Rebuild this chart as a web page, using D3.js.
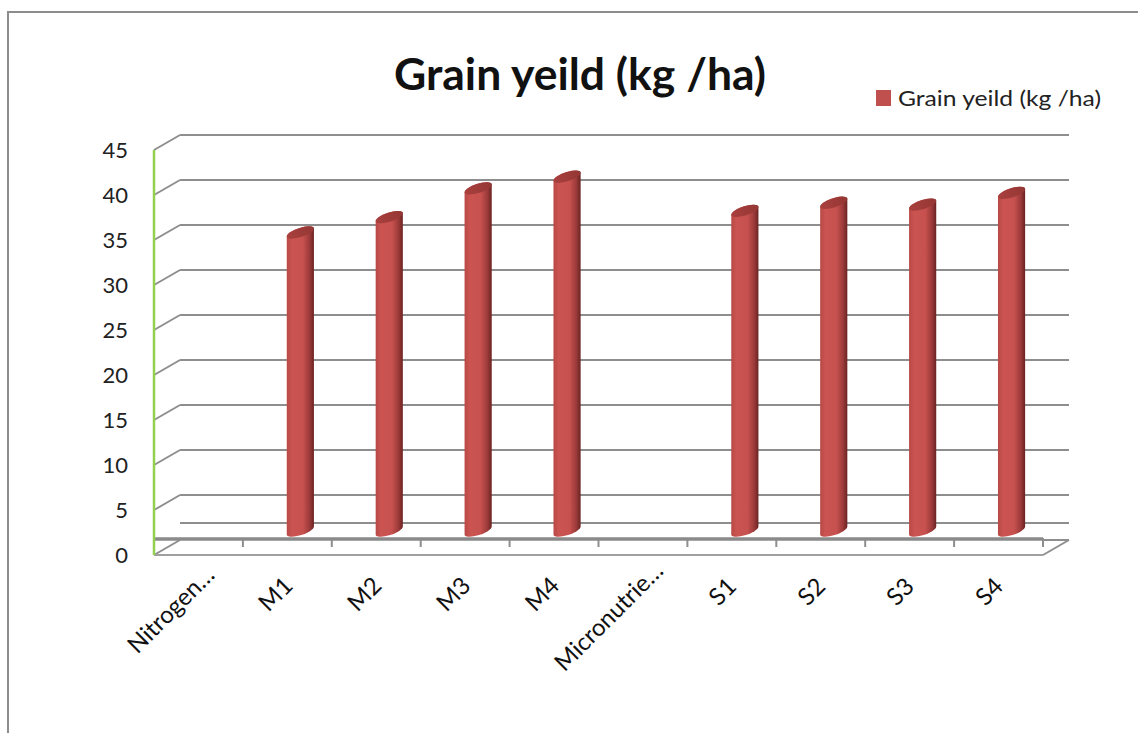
<!DOCTYPE html>
<html>
<head>
<meta charset="utf-8">
<script src="https://cdn.jsdelivr.net/npm/d3@7"></script>
<style>
  body { margin: 0; background: #fff; }
  svg { display: block; font-family: Lato, "Open Sans", sans-serif; }
</style>
</head>
<body>
<div id="chart"></div>
<script>

// data
var categories = ["Nitrogen…", "M1", "M2", "M3", "M4", "Micronutrie…", "S1", "S2", "S3", "S4"];
var grain_yield = [null, 35.0, 36.7, 39.9, 41.2, null, 37.4, 38.3, 38.1, 39.4];
var y_ticks = [0, 5, 10, 15, 20, 25, 30, 35, 40, 45];
var chart_title = "Grain yeild (kg /ha)";
var series_name = "Grain yeild (kg /ha)";

var W = 1138, H = 733;

// plot box (front plane) and 3d depth offset
var plot = {left: 154, right: 1043, top: 150, bottom: 555};
var depth = {dx: 26, dy: -15};
var floor_thick = 17;

var svg = d3.select("#chart").append("svg")
  .attr("width", W)
  .attr("height", H);

var defs = svg.append("defs");

var body_grad = defs.append("linearGradient")
  .attr("id", "bar_body")
  .attr("x1", "0%").attr("x2", "100%").attr("y1", "0%").attr("y2", "0%");
body_grad.append("stop").attr("offset", "0%").attr("stop-color", "#b84946");
body_grad.append("stop").attr("offset", "20%").attr("stop-color", "#cb5451");
body_grad.append("stop").attr("offset", "60%").attr("stop-color", "#c6514e");
body_grad.append("stop").attr("offset", "84%").attr("stop-color", "#9c3a3a");
body_grad.append("stop").attr("offset", "100%").attr("stop-color", "#6a2322");

var top_grad = defs.append("linearGradient")
  .attr("id", "bar_top")
  .attr("x1", "0%").attr("x2", "100%").attr("y1", "0%").attr("y2", "0%");
top_grad.append("stop").attr("offset", "0%").attr("stop-color", "#a9403e");
top_grad.append("stop").attr("offset", "100%").attr("stop-color", "#943734");

// outer frame (right and bottom edges fall outside the picture)
svg.append("rect")
  .attr("x", 8).attr("y", 12)
  .attr("width", W + 10).attr("height", H + 10)
  .attr("fill", "none")
  .attr("stroke", "#8c8c8c")
  .attr("stroke-width", 2);

var x = d3.scaleBand()
  .domain(categories)
  .range([plot.left, plot.right])
  .paddingInner(0).paddingOuter(0);

var y = d3.scaleLinear()
  .domain([0, 45])
  .range([plot.bottom, plot.top]);

var grid_col = "#8e8e8e";

// side wall + back wall gridlines
var grid = svg.append("g").attr("class", "grid");
y_ticks.filter(function(d) { return d > 0; }).forEach(function(v) {
  grid.append("line")
    .attr("x1", plot.left).attr("y1", y(v))
    .attr("x2", plot.left + depth.dx).attr("y2", y(v) + depth.dy)
    .attr("stroke", grid_col).attr("stroke-width", 2);
  grid.append("line")
    .attr("x1", plot.left + depth.dx).attr("y1", y(v) + depth.dy)
    .attr("x2", plot.right + depth.dx).attr("y2", y(v) + depth.dy)
    .attr("stroke", grid_col).attr("stroke-width", 2);
});

// floor slab
var fl = svg.append("g").attr("class", "floor");
var y0 = y(0);
// back top edge of slab
fl.append("line")
  .attr("x1", plot.left + depth.dx).attr("y1", y0 - floor_thick + depth.dy)
  .attr("x2", plot.right + depth.dx).attr("y2", y0 - floor_thick + depth.dy)
  .attr("stroke", grid_col).attr("stroke-width", 2);
// bottom left diagonal
fl.append("line")
  .attr("x1", plot.left).attr("y1", y0)
  .attr("x2", plot.left + depth.dx).attr("y2", y0 + depth.dy)
  .attr("stroke", grid_col).attr("stroke-width", 2);
// bottom right diagonal and back piece
fl.append("line")
  .attr("x1", plot.right).attr("y1", y0)
  .attr("x2", plot.right + depth.dx).attr("y2", y0 + depth.dy)
  .attr("stroke", grid_col).attr("stroke-width", 2);
fl.append("line")
  .attr("x1", plot.right).attr("y1", y0 + depth.dy)
  .attr("x2", plot.right + depth.dx).attr("y2", y0 + depth.dy)
  .attr("stroke", grid_col).attr("stroke-width", 2);
// front bottom edge
fl.append("line")
  .attr("x1", plot.left).attr("y1", y0)
  .attr("x2", plot.right).attr("y2", y0)
  .attr("stroke", "#a0a0a0").attr("stroke-width", 2);

// category ticks hanging from the slab front top edge
x.domain().forEach(function(c, i) {
  var tx = x(c) + x.bandwidth();
  fl.append("line")
    .attr("x1", tx).attr("y1", y0 - floor_thick)
    .attr("x2", tx).attr("y2", y0 - floor_thick + 9)
    .attr("stroke", grid_col).attr("stroke-width", 2);
});
// front top edge of slab (thick)
fl.append("line")
  .attr("x1", plot.left).attr("y1", y0 - floor_thick + 1)
  .attr("x2", plot.right).attr("y2", y0 - floor_thick + 1)
  .attr("stroke", "#8a8a8a").attr("stroke-width", 3.5);

// green value axis
svg.append("line")
  .attr("x1", plot.left).attr("y1", y(45))
  .attr("x2", plot.left).attr("y2", y(0))
  .attr("stroke", "#92d050").attr("stroke-width", 2.5);

// y tick labels
svg.append("g").selectAll("text")
  .data(y_ticks)
  .enter()
  .append("text")
    .attr("x", 128)
    .attr("y", function(d) { return y(d); })
    .attr("dy", "0.36em")
    .attr("text-anchor", "end")
    .style("font-size", "22px")
    .style("fill", "#222")
    .text(function(d) { return d; });

// cylinders
var rx = 14.2, ry = 4.6, rot = -18;
var phi = rot * Math.PI / 180;
function ell_pt(t) {
  return [rx * Math.cos(t) * Math.cos(phi) - ry * Math.sin(t) * Math.sin(phi),
          rx * Math.cos(t) * Math.sin(phi) + ry * Math.sin(t) * Math.cos(phi)];
}
var t0 = Math.atan2(-ry * Math.sin(phi), rx * Math.cos(phi));
var pa = ell_pt(t0), pb = ell_pt(t0 + Math.PI);
var p_right = pa[0] > pb[0] ? pa : pb;
var p_left = pa[0] > pb[0] ? pb : pa;

var bar_data = categories.map(function(c, i) { return {cat: c, v: grain_yield[i]}; })
  .filter(function(d) { return d.v != null; });

var bars = svg.append("g").attr("class", "bars")
  .selectAll("g")
  .data(bar_data)
  .enter()
  .append("g");

bars.append("path")
  .attr("fill", "url(#bar_body)")
  .attr("d", function(d) {
    var cx = x(d.cat) + x.bandwidth() / 2 + depth.dx / 2;
    var ytop = y(d.v) + depth.dy / 2;
    var ybot = y(0) - floor_thick + depth.dy / 2;
    return "M" + (cx + p_left[0]) + "," + (ytop + p_left[1]) +
      " L" + (cx + p_left[0]) + "," + (ybot + p_left[1]) +
      " A" + rx + "," + ry + " " + rot + " 0 0 " + (cx + p_right[0]) + "," + (ybot + p_right[1]) +
      " L" + (cx + p_right[0]) + "," + (ytop + p_right[1]) +
      " A" + rx + "," + ry + " " + rot + " 0 0 " + (cx + p_left[0]) + "," + (ytop + p_left[1]) + " Z";
  });

bars.append("ellipse")
  .attr("rx", rx).attr("ry", ry)
  .attr("fill", "url(#bar_top)")
  .attr("transform", function(d) {
    var cx = x(d.cat) + x.bandwidth() / 2 + depth.dx / 2;
    var ytop = y(d.v) + depth.dy / 2;
    return "translate(" + cx + "," + ytop + ") rotate(" + rot + ")";
  });

// category labels, rotated -45
var xl = svg.append("g").attr("class", "xlabels");
xl.selectAll("text")
  .data(categories)
  .enter()
  .append("text")
    .attr("text-anchor", "end")
    .style("font-size", "24px")
    .style("fill", "#111")
    .text(function(d) { return d; })
    .attr("transform", function(d) {
      var L = this.getComputedTextLength();
      var shift = Math.max(0, L - 30) * 0.2 * Math.SQRT1_2;
      var ax = x(d) + x.bandwidth() / 2 + 6 + shift;
      var ay = 588 - shift;
      return "translate(" + ax + "," + ay + ") rotate(-45)";
    });

// title
svg.append("text")
  .attr("x", 580)
  .attr("y", 90)
  .attr("text-anchor", "middle")
  .attr("textLength", 372)
  .attr("lengthAdjust", "spacingAndGlyphs")
  .style("font-size", "44px")
  .style("font-weight", "bold")
  .style("fill", "#111")
  .text(chart_title);

// legend
var leg = svg.append("g").attr("class", "legend");
leg.append("rect")
  .attr("x", 876).attr("y", 90)
  .attr("width", 15).attr("height", 16)
  .attr("fill", "#c0504d");
leg.append("text")
  .attr("x", 898)
  .attr("y", 106)
  .attr("textLength", 203)
  .attr("lengthAdjust", "spacingAndGlyphs")
  .style("font-size", "22px")
  .style("fill", "#222")
  .text(series_name);

</script>
</body>
</html>
